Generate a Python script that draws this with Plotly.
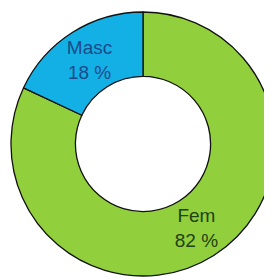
import plotly.graph_objects as go

title_text = "Sexo dos Alunos"
labels = ["Fem", "Masc"]
values = [82, 18]
colors = ["#92cf3c", "#13b0e6"]
text_colors = ["#1e4214", "#1d4a8a"]

W, H = 272, 278
# page body has an 8px offset; place the ring so it lands at the reference position
off = 8
cx, cy, r = 143 - off, 144 - off, 132

fig = go.Figure(go.Pie(
    labels=labels,
    values=values,
    sort=False,
    direction="clockwise",
    rotation=0,
    hole=0.512,
    marker=dict(colors=colors, line=dict(color="#111111", width=1.3)),
    texttemplate="%{label}<br>%{value} %",
    textposition="inside",
    insidetextorientation="horizontal",
    textfont=dict(family="Liberation Sans, Arial, sans-serif", size=19, color=text_colors),
    showlegend=False,
    domain=dict(x=[(cx - r) / W, (cx + r) / W],
                y=[(H - cy - r) / H, (H - cy + r) / H]),
))

fig.update_layout(
    width=W, height=H,
    margin=dict(l=0, r=0, t=0, b=0),
    paper_bgcolor="white",
    plot_bgcolor="white",
    annotations=[dict(text="<b>" + title_text + "</b>", x=(142 - off) / W, xref="paper", xanchor="center",
                      y=1 + 11 / H, yref="paper", yanchor="middle", showarrow=False,
                      font=dict(family="Liberation Sans, Arial, sans-serif", size=16, color="#222222"))],
)

fig.write_html("out.html")
